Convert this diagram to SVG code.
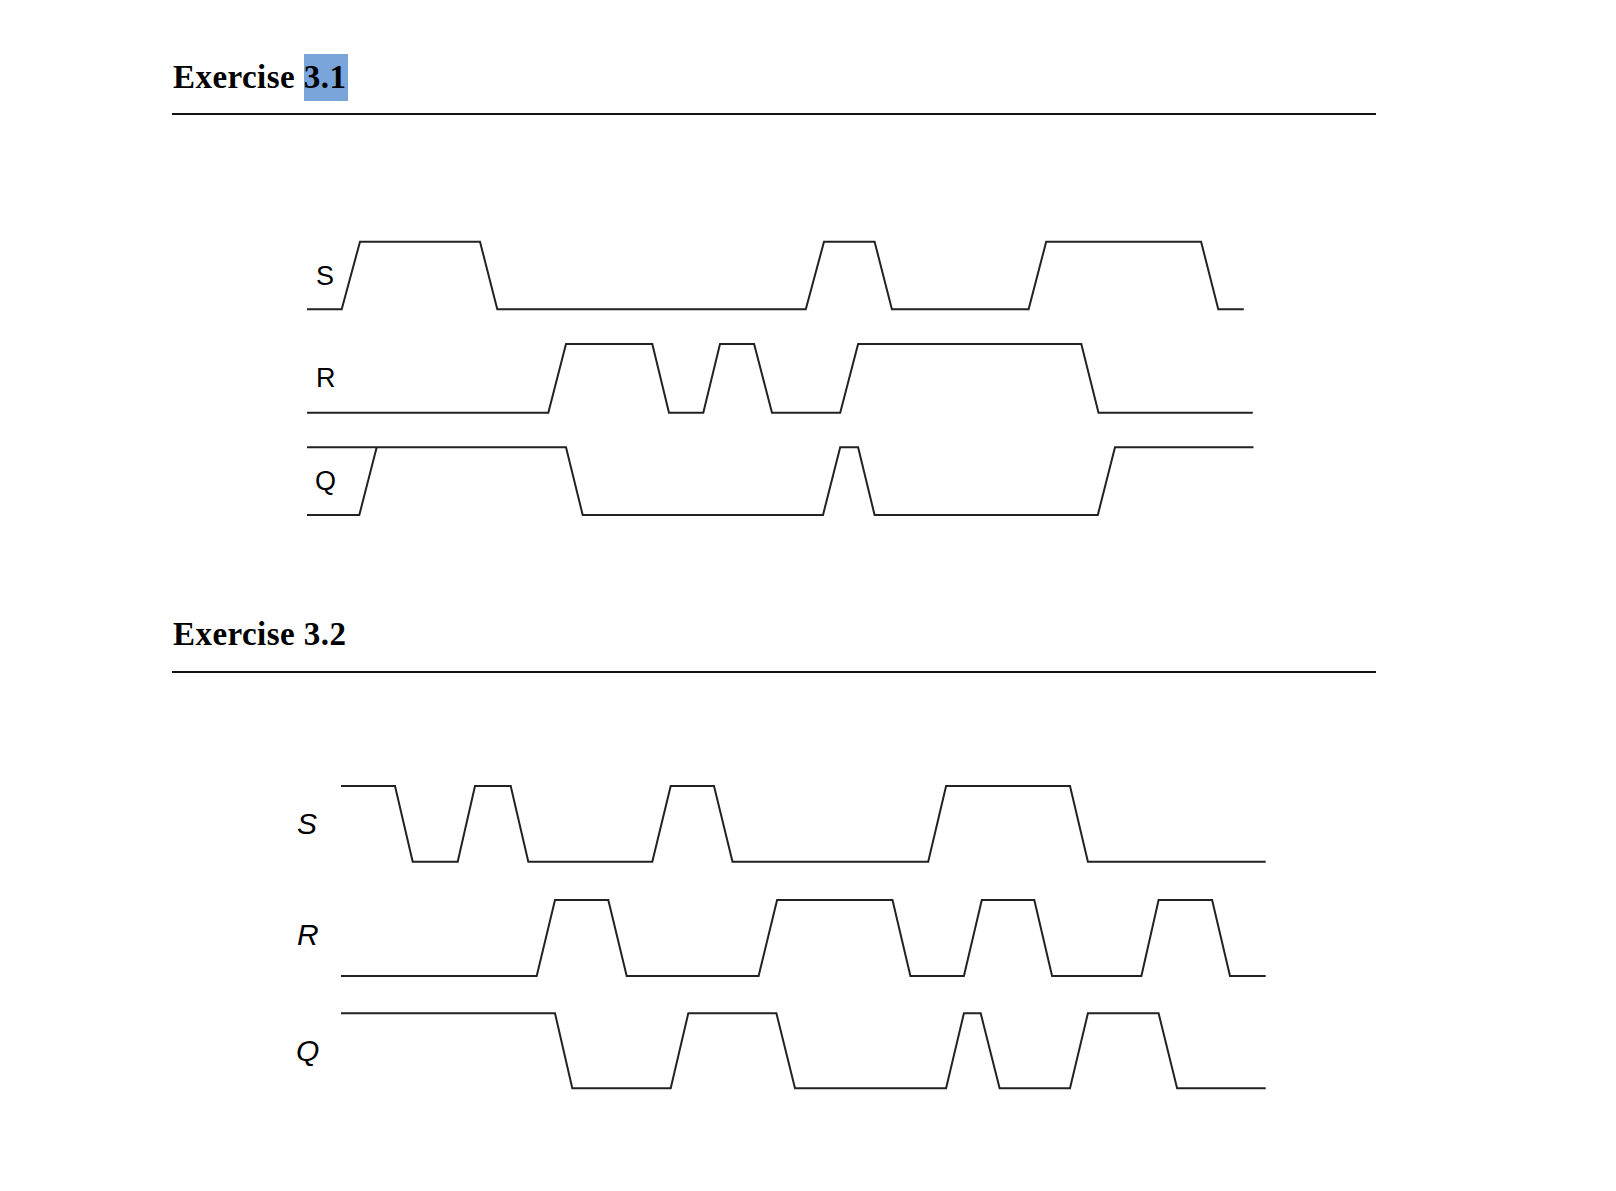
<svg xmlns="http://www.w3.org/2000/svg" width="1616" height="1191" viewBox="0 0 1616 1191">
<style>
.h{font-family:"Liberation Serif","Times New Roman",serif;font-weight:bold;font-size:33px;letter-spacing:0.45px;fill:#000}
.rule{stroke:#111;stroke-width:2;fill:none}
.w{stroke:#222;stroke-width:2;fill:none;stroke-linejoin:miter}
.l1{font-family:"Liberation Sans",Arial,sans-serif;font-size:27px;fill:#000}
.l2{font-family:"Liberation Sans",Arial,sans-serif;font-size:30px;font-style:italic;fill:#000}
</style>
<rect width="1616" height="1191" fill="#fff"/>
<g id="header1">
<rect x="304" y="54" width="44" height="47" fill="#79a5da"/>
<text class="h" x="173" y="88">Exercise 3.1</text>
<line class="rule" x1="172" y1="114" x2="1376" y2="114"/>
</g>
<g id="header2">
<text class="h" x="173" y="645">Exercise 3.2</text>
<line class="rule" x1="172" y1="672" x2="1376" y2="672"/>
</g>
<g id="ex31">
<g id="ex31-S"><text class="l1" x="316" y="285">S</text>
<path class="w" d="M307,309.3 H341.7 L360,241.7 H480 L497.3,309.3 H805.8 L824,241.7 H874.6 L891.9,309.3 H1028.6 L1046.2,241.7 H1201.1 L1218.3,309.3 H1243.8"/></g>
<g id="ex31-R"><text class="l1" x="316" y="387">R</text>
<path class="w" d="M307,412.7 H548.3 L566,344 H652.3 L669,412.7 H703.3 L720,344 H754.1 L772,412.7 H840.2 L858.1,344 H1081.3 L1098.5,412.7 H1252.8"/></g>
<g id="ex31-Q"><text class="l1" x="315" y="490">Q</text>
<path class="w" d="M307,447.3 H566 L582.7,515 H823 L840.2,447.3 H858.1 L874.6,515 H1097.8 L1115,447.3 H1253.5"/>
<path class="w" d="M307,515 H359.3 L376.7,447.3"/></g>
</g>
<g id="ex32">
<g id="ex32-S"><text class="l2" x="297" y="834">S</text>
<path class="w" d="M341,786 H395 L412.7,861.7 H457.7 L475,786 H510.7 L528.3,861.7 H652.3 L670.7,786 H714 L732.5,861.7 H928.2 L946.1,786 H1070 L1087.9,861.7 H1265.7"/></g>
<g id="ex32-R"><text class="l2" x="297" y="945">R</text>
<path class="w" d="M341,976 H536.7 L555,900 H608.3 L626.7,976 H758.6 L777.1,900 H892.5 L910.4,976 H963.9 L981.8,900 H1034.3 L1052.1,976 H1141.4 L1158.6,900 H1212.1 L1230,976 H1265.7"/></g>
<g id="ex32-Q"><text class="l2" x="296" y="1061">Q</text>
<path class="w" d="M341,1013.3 H555 L572.3,1088.3 H670.7 L688.3,1013.3 H776.4 L795,1088.3 H946.1 L963.9,1013.3 H980.7 L999.6,1088.3 H1070 L1087.9,1013.3 H1158.6 L1177.1,1088.3 H1265.7"/></g>
</g>
</svg>
